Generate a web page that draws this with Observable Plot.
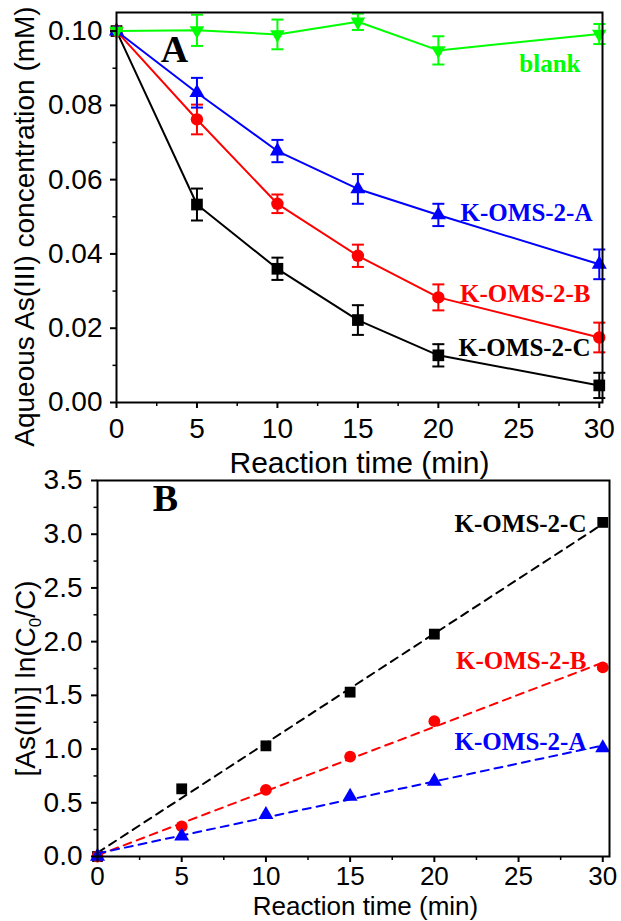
<!DOCTYPE html>
<html><head><meta charset="utf-8">
<script src="https://cdn.jsdelivr.net/npm/d3@7"></script>
<script src="https://cdn.jsdelivr.net/npm/@observablehq/plot@0.6"></script>
<style>
body{margin:0;background:#fff;}
#chart{width:621px;height:921px;position:relative;}
#chart svg{display:block;overflow:visible;}
</style></head><body><div id="chart"></div>
<script>
// ---------- Panel A data: aqueous As(III) concentration (mM) ----------
const timeA = [0, 5, 10, 15, 20, 30];
const blankA    = [0.100, 0.1002, 0.0991, 0.1025, 0.0948, 0.0992];
const blankErrA = [0, 0.0042, 0.0040, 0.0022, 0.0038, 0.0027];
const omsAA     = [0.100, 0.0834, 0.0677, 0.0575, 0.0505, 0.0372];
const omsAErrA  = [0, 0.0040, 0.0030, 0.0040, 0.0030, 0.0040];
const omsBA     = [0.100, 0.0762, 0.0535, 0.0395, 0.0283, 0.0175];
const omsBErrA  = [0, 0.0040, 0.0025, 0.0030, 0.0035, 0.0040];
const omsCA     = [0.100, 0.0533, 0.0360, 0.0222, 0.0127, 0.0046];
const omsCErrA  = [0, 0.0043, 0.0030, 0.0040, 0.0030, 0.0034];

// ---------- Panel B data: [As(III)] ln(C0/C) ----------
const timeB = [0, 5, 10, 15, 20, 30];
const lnA = [0, 0.19, 0.39, 0.56, 0.70, 1.01];
const lnB = [0, 0.28, 0.62, 0.93, 1.26, 1.76];
const lnC = [0, 0.63, 1.03, 1.53, 2.07, 3.11];

// ---------- Ticks and labels ----------
const xTicks = [0, 5, 10, 15, 20, 25, 30];
const xMinor = [2.5, 7.5, 12.5, 17.5, 22.5, 27.5];
const yTicksA = [0, 0.02, 0.04, 0.06, 0.08, 0.10];
const yMinorA = [0.01, 0.03, 0.05, 0.07, 0.09];
const yTicksB = [0, 0.5, 1.0, 1.5, 2.0, 2.5, 3.0, 3.5];
const yMinorB = [0.25, 0.75, 1.25, 1.75, 2.25, 2.75, 3.25];
const seriesNames = ["blank", "K-OMS-2-A", "K-OMS-2-B", "K-OMS-2-C"];
const titleX = "Reaction time (min)";
const titleYA = "Aqueous As(III) concentration (mM)";
const titleYB = "[As(III)] ln(C0/C)";
const panelLabels = ["A", "B"];

// ---------- Styles ----------
const colors = {"blank": "#00ff00", "K-OMS-2-A": "#0000ff", "K-OMS-2-B": "#ff0000", "K-OMS-2-C": "#000000"};
const symbolsA = {"blank": ["triangle", 180, 5.4], "K-OMS-2-A": ["triangle", 0, 5.6], "K-OMS-2-B": ["circle", 0, 6.2], "K-OMS-2-C": ["square", 0, 6.6]};
const symbolsB = {"K-OMS-2-A": ["triangle", 0, 5.6], "K-OMS-2-B": ["circle", 0, 5.9], "K-OMS-2-C": ["square", 0, 6.1]};
const capSymbol = {draw(ctx) { ctx.moveTo(-6, 0); ctx.lineTo(6, 0); }};
const sans = "Liberation Sans, Arial, sans-serif";
const serif = "Liberation Serif, Times New Roman, serif";

// ---------- Tables ----------
const valuesA = {"blank": [blankA, blankErrA], "K-OMS-2-A": [omsAA, omsAErrA], "K-OMS-2-B": [omsBA, omsBErrA], "K-OMS-2-C": [omsCA, omsCErrA]};
const rowsA = seriesNames.flatMap(s => timeA.map((t, i) => ({series: s, t, v: valuesA[s][0][i], e: valuesA[s][1][i]})));
const valuesB = {"K-OMS-2-A": lnA, "K-OMS-2-B": lnB, "K-OMS-2-C": lnC};
const rowsB = Object.keys(valuesB).flatMap(s => timeB.map((t, i) => ({series: s, t, v: valuesB[s][i]})));

function axes(yTicks, yMinor, yFmt, xPad, yPad, fsx, fsy) {
  return [
    Plot.axisX({ticks: xMinor, tickSize: 4, strokeWidth: 1.5, fill: "none", label: null}),
    Plot.axisY({ticks: yMinor, tickSize: 3.5, strokeWidth: 1.5, fill: "none", label: null}),
    Plot.axisX({ticks: xTicks, tickSize: 6, tickPadding: xPad, strokeWidth: 2, fontSize: fsx, tickFormat: d => String(d), label: null}),
    Plot.axisY({ticks: yTicks, tickSize: 6, tickPadding: yPad, strokeWidth: 2, fontSize: fsy, tickFormat: yFmt, label: null}),
    Plot.frame({stroke: "black", strokeWidth: 2})
  ];
}

// ---------- Panel A ----------
const marksA = [];
for (const s of ["K-OMS-2-C", "K-OMS-2-B", "K-OMS-2-A", "blank"]) {
  const d = rowsA.filter(r => r.series === s);
  const de = d.filter(r => r.e > 0);
  const [sym, rot, r] = symbolsA[s];
  marksA.push(
    Plot.line(d, {x: "t", y: "v", stroke: colors[s], strokeWidth: 2}),
    Plot.ruleX(de, {x: "t", y1: r => r.v - r.e, y2: r => r.v + r.e, stroke: colors[s], strokeWidth: 2}),
    Plot.dot(de, {x: "t", y: r => r.v - r.e, symbol: capSymbol, stroke: colors[s], strokeWidth: 2, fill: "none"}),
    Plot.dot(de, {x: "t", y: r => r.v + r.e, symbol: capSymbol, stroke: colors[s], strokeWidth: 2, fill: "none"}),
    Plot.dot(d, {x: "t", y: "v", symbol: sym, rotate: rot, r, fill: colors[s], stroke: "none"})
  );
}
const legendOffA = {"blank": [-22, 51], "K-OMS-2-A": [-10, 200], "K-OMS-2-B": [-12, 281], "K-OMS-2-C": [-12, 335]};
for (const s of seriesNames) {
  marksA.push(Plot.text([s], {frameAnchor: "top-right", textAnchor: "end", lineAnchor: "middle", dx: legendOffA[s][0], dy: legendOffA[s][1],
    fill: colors[s], fontFamily: serif, fontWeight: "bold", fontSize: 25}));
}
marksA.push(
  Plot.text([panelLabels[0]], {frameAnchor: "top-left", textAnchor: "middle", lineAnchor: "middle", dx: 58, dy: 37, fontFamily: serif, fontWeight: "bold", fontSize: 38, fill: "black"}),
  Plot.text([titleX], {frameAnchor: "bottom", lineAnchor: "middle", dy: 61, fontSize: 30, fill: "black", fontFamily: sans}),
  Plot.text([titleYA], {frameAnchor: "left", rotate: -90, textAnchor: "middle", lineAnchor: "middle", dx: -91, dy: 19, fontSize: 28, fill: "black", fontFamily: sans}),
  ...axes(yTicksA, yMinorA, d3.format(".2f"), 10, 8, 28, 28)
);

const plotA = Plot.plot({
  width: 621, height: 470,
  marginLeft: 116, marginRight: 19, marginTop: 12, marginBottom: 68,
  x: {domain: [0, 30.2], axis: null, label: null},
  y: {domain: [0, 0.105], axis: null, label: null},
  style: {fontFamily: sans, color: "black", background: "transparent", overflow: "visible"},
  marks: marksA
});

// ---------- Panel B ----------
const marksB = [];
for (const s of ["K-OMS-2-C", "K-OMS-2-B", "K-OMS-2-A"]) {
  const d = rowsB.filter(r => r.series === s);
  const [sym, rot, r] = symbolsB[s];
  marksB.push(
    Plot.linearRegressionY(d, {x: "t", y: "v", stroke: colors[s], strokeWidth: 2, strokeDasharray: "8,6", ci: 0}),
    Plot.dot(d, {x: "t", y: "v", symbol: sym, rotate: rot, r, fill: colors[s], stroke: "none"})
  );
}
const legendOffB = {"K-OMS-2-C": [-23, 43], "K-OMS-2-B": [-23, 180], "K-OMS-2-A": [-23, 261]};
for (const s of Object.keys(legendOffB)) {
  marksB.push(Plot.text([s], {frameAnchor: "top-right", textAnchor: "end", lineAnchor: "middle", dx: legendOffB[s][0], dy: legendOffB[s][1],
    fill: colors[s], fontFamily: serif, fontWeight: "bold", fontSize: 25}));
}
marksB.push(
  Plot.text([panelLabels[1]], {frameAnchor: "top-left", textAnchor: "middle", lineAnchor: "middle", dx: 68, dy: 18, fontFamily: serif, fontWeight: "bold", fontSize: 38, fill: "black"}),
  Plot.text([titleX], {frameAnchor: "bottom", lineAnchor: "middle", dx: 12, dy: 50, fontSize: 26, fill: "black", fontFamily: sans}),
  Plot.text([titleYB], {frameAnchor: "left", rotate: -90, textAnchor: "middle", lineAnchor: "middle", dx: -71, dy: 10, fontSize: 28, fill: "black", fontFamily: sans}),
  ...axes(yTicksB, yMinorB, d3.format(".1f"), 4, 9, 26, 28)
);

const plotB = Plot.plot({
  width: 621, height: 451,
  marginLeft: 97, marginRight: 12, marginTop: 10, marginBottom: 65,
  x: {domain: [0, 30.4], axis: null, label: null},
  y: {domain: [0, 3.5], axis: null, label: null},
  style: {fontFamily: sans, color: "black", background: "transparent", overflow: "visible"},
  marks: marksB
});

// subscript 0 in C0
d3.select(plotB).selectAll("text").filter(function() { return this.textContent === titleYB; }).each(function() {
  const t = d3.select(this);
  t.text(null);
  t.append("tspan").text("[As(III)] ln(C");
  t.append("tspan").attr("dy", 6).attr("font-size", 17).text("0");
  t.append("tspan").attr("dy", -6).text("/C)");
});

document.getElementById("chart").append(plotA, plotB);
</script></body></html>
